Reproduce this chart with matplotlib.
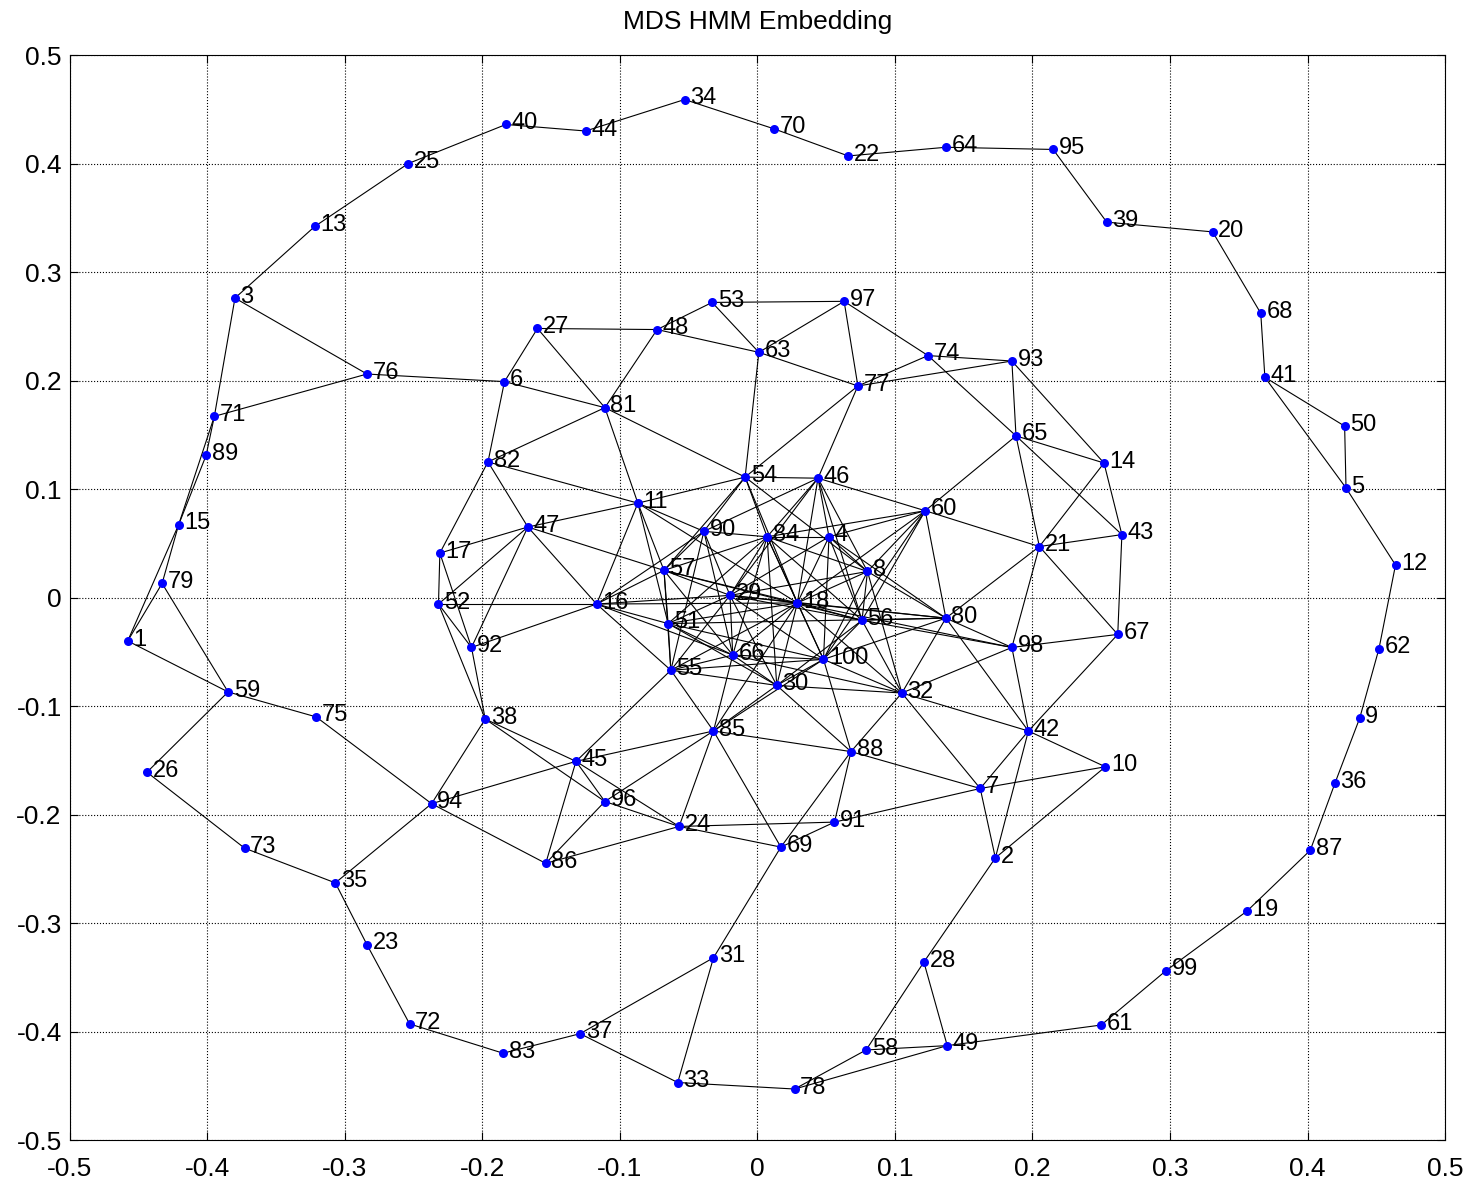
import matplotlib
matplotlib.use("Agg")
import matplotlib.pyplot as plt

plt.rcParams["font.family"] = ["Liberation Sans", "DejaVu Sans"]

# node coordinates, node i is at index i-1
xs = [-0.458, 0.173, -0.380, 0.052, 0.428, -0.184, 0.162, 0.080, 0.438, 0.253,
      -0.087, 0.464, -0.322, 0.252, -0.421, -0.117, -0.231, 0.029, 0.356, 0.331,
      0.205, 0.066, -0.284, -0.057, -0.254, -0.444, -0.160, 0.121, -0.020, 0.014,
      -0.032, 0.105, -0.058, -0.053, -0.307, 0.420, -0.129, -0.198, 0.254, -0.183,
      0.369, 0.197, 0.265, -0.125, -0.132, 0.044, -0.167, -0.073, 0.138, 0.427,
      -0.065, -0.232, -0.033, -0.009, -0.063, 0.076, -0.068, 0.079, -0.385, 0.122,
      0.250, 0.452, 0.001, 0.137, 0.188, -0.018, 0.262, 0.366, 0.017, 0.012,
      -0.395, -0.253, -0.373, 0.124, -0.321, -0.284, 0.073, 0.027, -0.433, 0.137,
      -0.111, -0.196, -0.185, 0.007, -0.032, -0.154, 0.402, 0.068, -0.401, -0.039,
      0.056, -0.208, 0.185, -0.237, 0.215, -0.111, 0.063, 0.185, 0.297, 0.048]
ys = [-0.040, -0.240, 0.276, 0.056, 0.101, 0.199, -0.176, 0.024, -0.111, -0.156,
      0.087, 0.030, 0.342, 0.124, 0.067, -0.006, 0.041, -0.005, -0.289, 0.337,
      0.047, 0.407, -0.320, -0.211, 0.400, -0.161, 0.248, -0.336, 0.002, -0.081,
      -0.332, -0.088, -0.447, 0.459, -0.263, -0.171, -0.402, -0.112, 0.346, 0.436,
      0.203, -0.123, 0.058, 0.430, -0.151, 0.110, 0.065, 0.247, -0.413, 0.158,
      -0.024, -0.006, 0.272, 0.111, -0.067, -0.021, 0.025, -0.417, -0.087, 0.080,
      -0.394, -0.047, 0.226, 0.415, 0.149, -0.053, -0.034, 0.262, -0.230, 0.432,
      0.167, -0.393, -0.231, 0.223, -0.110, 0.206, 0.195, -0.453, 0.013, -0.019,
      0.175, 0.125, -0.420, 0.056, -0.123, -0.245, -0.233, -0.142, 0.131, 0.061,
      -0.207, -0.046, 0.218, -0.190, 0.413, -0.188, 0.273, -0.046, -0.344, -0.057]

# outer spiral
ring_edges = [
    (1, 15), (1, 79), (1, 59), (15, 79), (15, 89), (15, 71), (71, 89), (79, 59),
    (71, 3), (71, 76), (3, 76), (3, 13), (13, 25), (25, 40), (40, 44), (44, 34),
    (34, 70), (70, 22), (22, 64), (64, 95), (95, 39), (39, 20), (20, 68), (68, 41),
    (41, 50), (41, 5), (50, 5), (5, 12), (12, 62), (62, 9), (9, 36), (36, 87),
    (87, 19), (19, 99), (99, 61), (61, 49), (49, 58), (49, 78), (58, 78), (28, 58),
    (28, 49), (28, 2), (78, 33), (33, 31), (33, 37), (31, 37), (31, 69), (37, 83),
    (83, 72), (72, 23), (23, 35), (35, 73), (73, 26), (26, 59), (59, 75), (75, 94),
    (35, 94), (76, 6),
]

# inner part
inner_edges = [
    (6, 27), (6, 82), (6, 81), (27, 48), (27, 81), (48, 53), (48, 63), (48, 81),
    (53, 97), (53, 63), (63, 97), (63, 77), (63, 54), (97, 77), (97, 74), (74, 65),
    (77, 74), (77, 93), (74, 93), (93, 65), (93, 14), (65, 14), (65, 21), (65, 43),
    (65, 60), (14, 43), (14, 21), (21, 43), (21, 60), (21, 98), (21, 67), (43, 67),
    (67, 98), (67, 42), (77, 54), (77, 46), (81, 82), (81, 11), (81, 54),
    (82, 11), (82, 17), (82, 47), (17, 47), (17, 52), (17, 92), (52, 47), (52, 92),
    (52, 16), (52, 38), (92, 38), (92, 47), (92, 16), (47, 11), (47, 16), (47, 57),
    (11, 54), (11, 90), (11, 57), (11, 51), (11, 16), (11, 18),
    (54, 46), (54, 90), (54, 84), (54, 57), (54, 8), (54, 18),
    (46, 84), (46, 4), (46, 8), (46, 60), (46, 18), (46, 29), (46, 56), (46, 90),
    (90, 84), (90, 57), (90, 29), (90, 66), (90, 16), (90, 55),
    (84, 4), (84, 29), (84, 18), (84, 51), (84, 66), (84, 100), (84, 56), (84, 8),
    (84, 30), (84, 57), (84, 60),
    (4, 60), (4, 8), (4, 18), (4, 56), (4, 100), (4, 29), (4, 80),
    (8, 60), (8, 80), (8, 18), (8, 56), (8, 100), (8, 32), (8, 29),
    (60, 80), (60, 56), (60, 18), (60, 100),
    (29, 57), (29, 18), (29, 16), (29, 51), (29, 66), (29, 55), (29, 100), (29, 30),
    (29, 80), (29, 56),
    (18, 56), (18, 80), (18, 57), (18, 51), (18, 66), (18, 100), (18, 30), (18, 55),
    (18, 85), (18, 32), (18, 98), (16, 18),
    (57, 16), (57, 51), (57, 55), (57, 66), (57, 56),
    (51, 16), (51, 55), (51, 66), (51, 30), (51, 100), (51, 80),
    (66, 55), (66, 30), (66, 100), (66, 85), (66, 16), (66, 32),
    (55, 30), (55, 100), (55, 85), (55, 45), (55, 16),
    (30, 100), (30, 85), (30, 32), (30, 88), (30, 56),
    (56, 80), (56, 100), (56, 32), (56, 98),
    (100, 32), (100, 88), (100, 85), (100, 80),
    (80, 32), (80, 98), (80, 21), (80, 42),
    (32, 98), (32, 42), (32, 88), (32, 7), (98, 42),
    (85, 88), (85, 45), (85, 96), (85, 24), (85, 69),
    (88, 91), (88, 69), (88, 7),
    (24, 91), (24, 69), (24, 86), (24, 45), (24, 96),
    (45, 38), (45, 86), (45, 94), (45, 96),
    (96, 38), (96, 86), (38, 94), (94, 86),
    (7, 42), (7, 10), (7, 2), (7, 91), (42, 10), (42, 2), (2, 10),
    (91, 69),
]

fig = plt.figure(figsize=(14.73, 11.89), dpi=100)
ax = fig.add_axes([0.0475, 0.0412, 0.9335, 0.9125])

for a, b in ring_edges + inner_edges:
    ax.plot([xs[a - 1], xs[b - 1]], [ys[a - 1], ys[b - 1]], "-", color="black",
            linewidth=0.8, zorder=2)

ax.plot(xs, ys, "o", color=(0, 0, 1), markersize=6.5, markeredgewidth=0, zorder=3)

for i, (x, y) in enumerate(zip(xs, ys)):
    ax.annotate(str(i + 1), (x, y), xytext=(4, 1), textcoords="offset points",
                fontsize=17, va="center", ha="left", zorder=4)

ax.set_xlim(-0.5, 0.5)
ax.set_ylim(-0.5, 0.5)
ticks = [-0.5, -0.4, -0.3, -0.2, -0.1, 0, 0.1, 0.2, 0.3, 0.4, 0.5]
tick_labels = ["-0.5", "-0.4", "-0.3", "-0.2", "-0.1", "0", "0.1", "0.2", "0.3", "0.4", "0.5"]
ax.set_xticks(ticks)
ax.set_xticklabels(tick_labels)
ax.set_yticks(ticks)
ax.set_yticklabels(tick_labels)
ax.tick_params(direction="in", top=True, right=True, labelsize=19, length=6)
ax.tick_params(axis="x", pad=12)
ax.tick_params(axis="y", pad=6)
ax.grid(True, linestyle=":", color="black", linewidth=0.8)
ax.set_axisbelow(True)
ax.set_title("MDS HMM Embedding", fontsize=19, pad=19)

fig.savefig("out.png", dpi=100)
